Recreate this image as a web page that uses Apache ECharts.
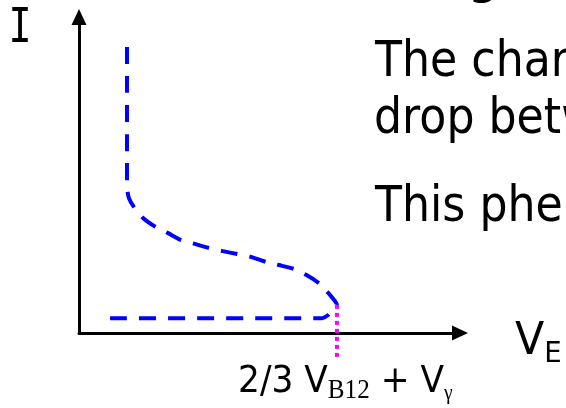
<!DOCTYPE html>
<html>
<head>
<meta charset="utf-8">
<script src="https://cdn.jsdelivr.net/npm/echarts@6/dist/echarts.min.js"></script>
<style>
  html, body { margin: 0; padding: 0; background: #fff; }
  #chart { width: 566px; height: 408px; }
</style>
</head>
<body>
<div id="chart"></div>
<script>
// UJT emitter characteristic, traced from the top of the saturation branch
// down through the negative-resistance region, round the peak and back
// along the cut-off branch (arbitrary units).
const vE = [1.26, 1.26, 1.31, 1.44, 1.68, 2.02, 2.34, 2.68, 3.04, 3.41, 3.78, 4.15,
            4.51, 4.91, 5.25, 5.64, 5.96, 6.33, 6.54, 6.77, 6.67, 6.54, 6.38, 0.73];
const iE = [9.05, 4.59, 4.27, 3.99, 3.64, 3.35, 3.16, 2.94, 2.82, 2.69, 2.59, 2.50,
            2.41, 2.25, 2.15, 2.03, 1.84, 1.55, 1.27, 0.89, 0.73, 0.57, 0.47, 0.47];

// Peak-point marker dropped below the voltage axis
const peakV = [6.77, 6.77];
const peakI = [0.89, -0.76];

const bodyLines = ['The charge', 'drop between', 'This phenomenon'];
const titleTail = 'g';

const sansFont = '"DejaVu Sans", sans-serif';
const serifFont = '"Liberation Serif", "DejaVu Serif", serif';
// DejaVu Sans is set a little narrower to get a Tahoma-like width
const narrow = 0.885;

const curve = vE.map((v, i) => [v, iE[i]]);
const peakLine = peakV.map((v, i) => [v, peakI[i]]);

const chart = echarts.init(document.getElementById('chart'), null, { renderer: 'canvas' });

const axisCommon = {
  type: 'value',
  min: 0,
  max: 10,
  axisLine: {
    show: true,
    onZero: false,
    symbol: ['none', 'triangle'],
    symbolSize: [15, 16],
    lineStyle: { color: '#000', width: 3 }
  },
  axisTick: { show: false },
  axisLabel: { show: false },
  splitLine: { show: false }
};

function bodyText(x, y, str) {
  return {
    type: 'text', x: x, y: y, scaleX: narrow,
    style: { text: str, fill: '#000', font: '50px ' + sansFont, align: 'left', verticalAlign: 'middle' }
  };
}

chart.setOption({
  animation: false,
  backgroundColor: '#fff',
  grid: { left: 79, right: 106, top: 17, bottom: 75, containLabel: false },
  xAxis: Object.assign({}, axisCommon),
  yAxis: Object.assign({}, axisCommon),
  series: [
    {
      type: 'line',
      data: curve,
      symbol: 'none',
      smooth: 0.2,
      clip: false,
      lineStyle: { color: '#0000ff', width: 4, type: [17, 12], cap: 'butt' },
      z: 3
    },
    {
      type: 'line',
      data: peakLine,
      symbol: 'none',
      clip: false,
      lineStyle: { color: '#ff00ff', width: 4, type: [4, 4], cap: 'butt' },
      z: 4
    }
  ],
  graphic: [
    {
      type: 'text', x: 20, y: 30, scaleX: 0.8,
      style: {
        text: 'I', fill: '#000',
        font: '48px "DejaVu Sans Mono", monospace',
        align: 'center', verticalAlign: 'middle'
      }
    },
    {
      type: 'text', x: 469, y: -16,
      style: {
        text: titleTail, fill: '#000',
        font: 'bold 40px ' + sansFont,
        align: 'left', verticalAlign: 'middle'
      }
    },
    bodyText(375, 63, bodyLines[0]),
    bodyText(374, 120, bodyLines[1]),
    bodyText(375, 208, bodyLines[2]),
    {
      type: 'text', x: 515, y: 315, scaleX: 0.95,
      style: {
        text: '{m|V}{s|E}',
        align: 'left', verticalAlign: 'top',
        rich: {
          m: { fontSize: 45, fontFamily: sansFont, fill: '#000', lineHeight: 54 },
          s: { fontSize: 29, fontFamily: sansFont, fill: '#000', lineHeight: 23, verticalAlign: 'bottom' }
        }
      }
    },
    {
      type: 'text', x: 238, y: 360, scaleX: 0.93,
      style: {
        text: '{m|2/3 V}{s|B12}{m| + V}{g|γ}',
        align: 'left', verticalAlign: 'top',
        rich: {
          m: { fontSize: 37, fontFamily: sansFont, fill: '#000', lineHeight: 44 },
          s: { fontSize: 27, fontFamily: serifFont, fill: '#000', lineHeight: 16, verticalAlign: 'bottom' },
          g: { fontSize: 21, fontFamily: serifFont, fill: '#000', lineHeight: 10, verticalAlign: 'bottom' }
        }
      }
    }
  ]
});
</script>
</body>
</html>
